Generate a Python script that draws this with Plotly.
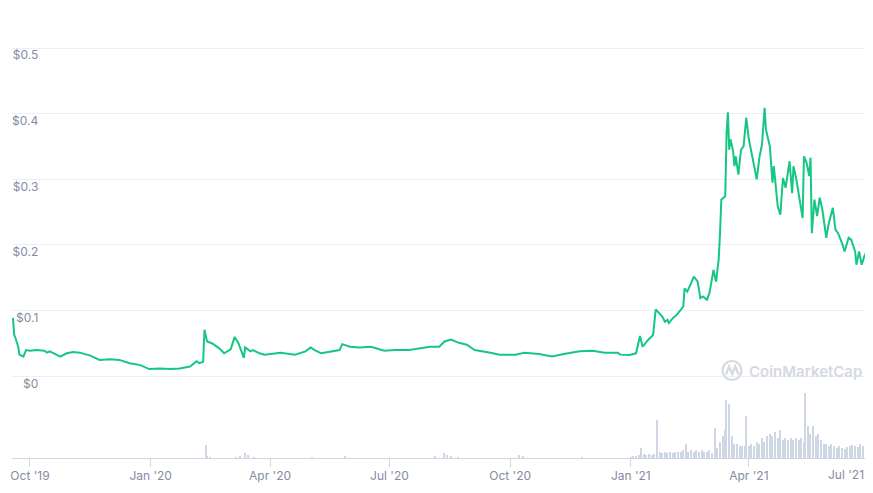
import plotly.graph_objects as go

# ---------------- data ----------------
PRICE_DATES = [
    "2019-09-18", "2019-09-19", "2019-09-20", "2019-09-22", "2019-09-23", "2019-09-26", "2019-09-28",
    "2019-10-01", "2019-10-06", "2019-10-12", "2019-10-14", "2019-10-16", "2019-10-20", "2019-10-24",
    "2019-10-29", "2019-11-03", "2019-11-08", "2019-11-16", "2019-11-23", "2019-12-01", "2019-12-08",
    "2019-12-16", "2019-12-24", "2019-12-31", "2020-01-08", "2020-01-16", "2020-01-23", "2020-01-31",
    "2020-02-05", "2020-02-07", "2020-02-10", "2020-02-11", "2020-02-13", "2020-02-17", "2020-02-22",
    "2020-02-26", "2020-03-02", "2020-03-05", "2020-03-08", "2020-03-12", "2020-03-13", "2020-03-17",
    "2020-03-19", "2020-03-24", "2020-03-28", "2020-04-09", "2020-04-20", "2020-04-28", "2020-05-02",
    "2020-05-05", "2020-05-10", "2020-05-20", "2020-05-24", "2020-05-26", "2020-06-01", "2020-06-08",
    "2020-06-17", "2020-06-27", "2020-07-05", "2020-07-16", "2020-07-28", "2020-08-01", "2020-08-08",
    "2020-08-12", "2020-08-17", "2020-08-23", "2020-08-29", "2020-09-04", "2020-09-16", "2020-09-23",
    "2020-10-05", "2020-10-12", "2020-10-23", "2020-11-02", "2020-11-11", "2020-11-23", "2020-12-03",
    "2020-12-12", "2020-12-22", "2020-12-24", "2020-12-31", "2021-01-05", "2021-01-08", "2021-01-10",
    "2021-01-14", "2021-01-18", "2021-01-20", "2021-01-23", "2021-01-25", "2021-01-27", "2021-01-29",
    "2021-01-30", "2021-02-02", "2021-02-05", "2021-02-07", "2021-02-10", "2021-02-11", "2021-02-13",
    "2021-02-16", "2021-02-18", "2021-02-21", "2021-02-23", "2021-02-25", "2021-02-28", "2021-03-02",
    "2021-03-05", "2021-03-07", "2021-03-09", "2021-03-10", "2021-03-11", "2021-03-14", "2021-03-15",
    "2021-03-16", "2021-03-17", "2021-03-18", "2021-03-20", "2021-03-21", "2021-03-22", "2021-03-24",
    "2021-03-26", "2021-03-28", "2021-03-30", "2021-04-01", "2021-04-03", "2021-04-05", "2021-04-07",
    "2021-04-09", "2021-04-11", "2021-04-13", "2021-04-14", "2021-04-17", "2021-04-19", "2021-04-20",
    "2021-04-23", "2021-04-25", "2021-04-27", "2021-04-29", "2021-05-02", "2021-05-04", "2021-05-05",
    "2021-05-07", "2021-05-10", "2021-05-12", "2021-05-13", "2021-05-15", "2021-05-17", "2021-05-18",
    "2021-05-19", "2021-05-21", "2021-05-23", "2021-05-25", "2021-05-27", "2021-05-30", "2021-06-01",
    "2021-06-04", "2021-06-06", "2021-06-08", "2021-06-11", "2021-06-13", "2021-06-16", "2021-06-18",
    "2021-06-21", "2021-06-22", "2021-06-24", "2021-06-26", "2021-06-28", "2021-07-01", "2021-07-02",
]
PRICE_VALUES = [
    0.089, 0.063, 0.058, 0.045, 0.033, 0.030, 0.040,
    0.039, 0.040, 0.039, 0.036, 0.038, 0.034, 0.030,
    0.035, 0.037, 0.036, 0.0315, 0.025, 0.026, 0.025,
    0.020, 0.017, 0.011, 0.012, 0.011, 0.012, 0.015,
    0.023, 0.020, 0.022, 0.071, 0.053, 0.050, 0.043,
    0.035, 0.041, 0.060, 0.050, 0.028, 0.044, 0.038,
    0.040, 0.035, 0.033, 0.036, 0.033, 0.038, 0.044,
    0.040, 0.035, 0.038, 0.040, 0.049, 0.045, 0.044,
    0.045, 0.039, 0.040, 0.040, 0.044, 0.045, 0.045,
    0.053, 0.056, 0.051, 0.048, 0.040, 0.036, 0.033,
    0.033, 0.036, 0.034, 0.030, 0.034, 0.038, 0.039,
    0.036, 0.036, 0.033, 0.0325, 0.035, 0.0615, 0.045,
    0.055, 0.063, 0.102, 0.096, 0.091, 0.083, 0.086,
    0.081, 0.0885, 0.0935, 0.0985, 0.106, 0.134, 0.129,
    0.142, 0.152, 0.144, 0.119, 0.1215, 0.1165, 0.127,
    0.162, 0.144, 0.178, 0.218, 0.269, 0.274, 0.371,
    0.402, 0.345, 0.361, 0.343, 0.320, 0.335, 0.307,
    0.345, 0.3505, 0.394, 0.361, 0.340, 0.3225, 0.300,
    0.333, 0.353, 0.409, 0.376, 0.350, 0.295, 0.320,
    0.259, 0.246, 0.302, 0.287, 0.3275, 0.279, 0.320,
    0.302, 0.269, 0.241, 0.335, 0.325, 0.305, 0.333,
    0.218, 0.269, 0.244, 0.272, 0.254, 0.211, 0.234,
    0.2565, 0.2235, 0.218, 0.203, 0.190, 0.211, 0.208,
    0.190, 0.170, 0.190, 0.170, 0.1825, 0.1955, 0.190,
]

VOLUME_DATES = [
    "2020-02-12", "2020-02-13", "2020-02-15", "2020-03-06", "2020-03-09", "2020-03-13", "2020-03-15",
    "2020-03-20", "2020-05-03", "2020-05-28", "2020-08-05", "2020-08-12", "2020-08-14", "2020-08-17",
    "2020-08-22", "2020-10-08", "2020-10-11", "2020-11-25",
    "2021-01-01", "2021-01-03", "2021-01-05", "2021-01-07", "2021-01-09", "2021-01-11", "2021-01-13",
    "2021-01-15", "2021-01-17", "2021-01-19", "2021-01-21", "2021-01-23", "2021-01-25", "2021-01-27",
    "2021-01-29", "2021-01-31", "2021-02-02", "2021-02-04", "2021-02-06", "2021-02-08", "2021-02-10",
    "2021-02-12", "2021-02-14", "2021-02-16", "2021-02-18", "2021-02-20", "2021-02-22", "2021-02-24",
    "2021-02-26", "2021-02-28", "2021-03-02", "2021-03-04", "2021-03-06", "2021-03-08", "2021-03-10",
    "2021-03-12", "2021-03-14", "2021-03-15", "2021-03-17", "2021-03-19", "2021-03-21", "2021-03-23",
    "2021-03-25", "2021-03-27", "2021-03-29", "2021-03-30", "2021-04-01", "2021-04-03", "2021-04-05",
    "2021-04-07", "2021-04-09", "2021-04-11", "2021-04-13", "2021-04-15", "2021-04-17", "2021-04-19",
    "2021-04-21", "2021-04-23", "2021-04-25", "2021-04-27", "2021-04-29", "2021-05-01", "2021-05-03",
    "2021-05-05", "2021-05-07", "2021-05-09", "2021-05-11", "2021-05-13", "2021-05-14", "2021-05-16",
    "2021-05-18", "2021-05-20", "2021-05-22", "2021-05-24", "2021-05-26", "2021-05-28", "2021-05-30",
    "2021-06-01", "2021-06-03", "2021-06-05", "2021-06-07", "2021-06-09", "2021-06-11", "2021-06-13",
    "2021-06-15", "2021-06-17", "2021-06-19", "2021-06-21", "2021-06-23", "2021-06-25", "2021-06-27",
    "2021-06-29", "2021-07-01",
]
VOLUME_VALUES = [  # millions USD (approx.)
    20, 3, 2, 2, 3, 8.5, 4.5,
    2, 1.5, 3, 3, 8.5, 4.5, 3,
    2, 4.5, 3, 2,
    2, 3, 3.5, 4.5, 15, 6, 5,
    6, 5, 6, 58, 10, 7.5, 9,
    7.5, 9, 7.5, 10, 9, 9, 12,
    22, 10, 12, 9, 12, 9, 12,
    10, 9, 12, 7.5, 45, 15, 24,
    34, 42, 87, 81, 34, 21, 22,
    19, 18, 18, 63, 19, 22, 19,
    25, 22, 30, 24, 33, 36, 33,
    39, 30, 42, 27, 30, 27, 30,
    28, 30, 27, 30, 25, 98, 48,
    37, 48, 33, 36, 27, 22, 21,
    18, 21, 18, 15, 18, 15, 13.5,
    16.5, 18, 19.5, 18, 16.5, 21, 18,
    15, 13.5,
]

PRICE_TICK_VALUES = [0, 0.1, 0.2, 0.3, 0.4, 0.5]
PRICE_TICK_LABELS = ["$0", "$0.1", "$0.2", "$0.3", "$0.4", "$0.5"]
X_TICK_VALUES = ["2019-10-01", "2020-01-01", "2020-04-01", "2020-07-01",
                 "2020-10-01", "2021-01-01", "2021-04-01", "2021-07-01"]
X_TICK_LABELS = ["Oct '19", "Jan '20", "Apr '20", "Jul '20",
                 "Oct '20", "Jan '21", "Apr '21", "Jul '21"]

# ---------------- layout helpers ----------------
# The page has an 8px body margin, so the figure is made smaller and all
# placement below is expressed in screen pixels of the 873x493 window.
OFF = 8
W, H = 873 - OFF, 493 - 2 * OFF
ML = 4                      # plot area starts at screen x = 12
def pxx(x):                 # screen x -> paper x
    return (x - OFF - ML) / (W - ML)
def pyy(y):                 # screen y -> paper y
    return 1 - (y - OFF) / H

GREEN = "#16c784"
GRID = "#eceff3"
TEXT = "#858ca2"
VOL = "#cfd6e4"
FONT = "Inter"

# the last label is drawn flush-right against its tick (as in the reference),
# so the axis itself leaves that one blank
x_tick_text = X_TICK_LABELS[:-1] + [""]

fig = go.Figure()
fig.add_trace(go.Bar(
    x=VOLUME_DATES, y=VOLUME_VALUES, xaxis="x", yaxis="y",
    marker=dict(color=VOL, line=dict(width=0)), width=86400000 * 0.95,
    hoverinfo="skip", showlegend=False,
))
fig.add_trace(go.Scatter(
    x=PRICE_DATES, y=PRICE_VALUES, xaxis="x", yaxis="y2", mode="lines",
    line=dict(color=GREEN, width=2), showlegend=False,
))
# invisible helper trace for the label axis
fig.add_trace(go.Scatter(
    x=[PRICE_DATES[0]], y=[PRICE_VALUES[0]], xaxis="x", yaxis="y3", mode="markers",
    marker=dict(opacity=0), hoverinfo="skip", showlegend=False,
))

PX_PER_UNIT = 656.6         # screen pixels per $1
Y0 = 376.3                  # screen y of $0
price_range = [(Y0 - 384) / PX_PER_UNIT, (Y0 - OFF) / PX_PER_UNIT]

fig.update_layout(
    width=W, height=H,
    margin=dict(l=ML, r=0, t=0, b=0, pad=0, autoexpand=False),
    paper_bgcolor="white", plot_bgcolor="white",
    font=dict(family=FONT, size=12, color=TEXT),
    bargap=0,
    xaxis=dict(
        type="date", anchor="y", automargin=False,
        range=["2019-09-17 07:00", "2021-07-04 15:00"],
        tickvals=X_TICK_VALUES, ticktext=x_tick_text,
        showgrid=False, zeroline=False,
        showline=True, linecolor=VOL, linewidth=1,
        ticks="outside", ticklen=8, tickcolor=VOL, tickwidth=1,
        ticklabelstandoff=-2, ticklabeloverflow="allow",
        tickfont=dict(family=FONT, size=12, color=TEXT),
    ),
    yaxis=dict(
        domain=[pyy(458.3), pyy(385)], range=[0, 110],
        visible=False, fixedrange=True, automargin=False,
    ),
    yaxis2=dict(
        domain=[pyy(384), 1], range=price_range, anchor="x", automargin=False,
        tickvals=PRICE_TICK_VALUES, showticklabels=False, ticks="",
        showgrid=True, gridcolor=GRID, gridwidth=1, zeroline=False, showline=False,
    ),
    yaxis3=dict(
        overlaying="y2", anchor="free", position=pxx(38.3), side="left", automargin=False,
        range=price_range, tickvals=PRICE_TICK_VALUES, ticktext=PRICE_TICK_LABELS,
        showgrid=False, zeroline=False, showline=False, ticks="",
        ticklabelshift=7, ticklabelstandoff=0,
        tickfont=dict(family=FONT, size=12, color=TEXT),
    ),
)

# last x label, right-aligned to its tick
fig.add_annotation(text=X_TICK_LABELS[-1], xref="x", yref="paper",
                   x=X_TICK_VALUES[-1], y=pyy(474), xanchor="right", yanchor="middle",
                   xshift=-2, showarrow=False,
                   font=dict(family=FONT, size=12, color=TEXT))

# CoinMarketCap watermark
WM = "#d5d9e0"
fig.add_shape(type="circle", xref="paper", yref="paper",
              x0=pxx(722.5), x1=pxx(741.5), y0=pyy(380), y1=pyy(361),
              line=dict(color=WM, width=2.2))
fig.add_shape(type="path", xref="paper", yref="paper",
              path="M {} {} L {} {} L {} {} L {} {} L {} {}".format(
                  pxx(726), pyy(374.5), pxx(729), pyy(366.5), pxx(732.2), pyy(374),
                  pxx(735.3), pyy(366.5), pxx(738.5), pyy(374.5)),
              line=dict(color=WM, width=2.2))
fig.add_annotation(text="CoinMarketCap", xref="paper", yref="paper",
                   x=pxx(747), y=pyy(371), xanchor="left", yanchor="middle",
                   showarrow=False,
                   font=dict(family=FONT, size=15, color=WM, weight=600))

fig.write_html("out.html")
